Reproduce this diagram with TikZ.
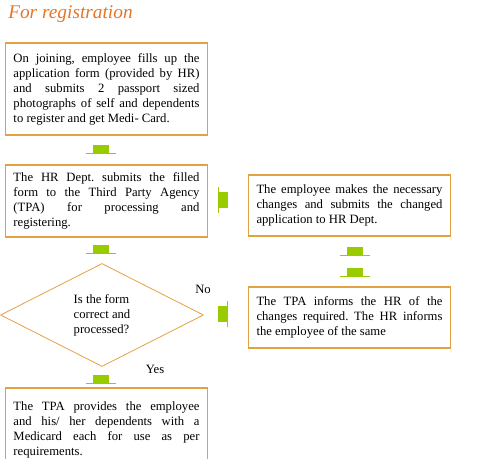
\documentclass[tikz,border=0pt]{standalone}
\usepackage{fontspec}
\setmainfont{Liberation Serif}
\usepackage{xcolor}
\usetikzlibrary{shapes.geometric}

\definecolor{boxline}{RGB}{226,162,68}
\definecolor{stubgreen}{RGB}{153,204,0}
\definecolor{titleorange}{RGB}{228,118,38}

\newcommand{\flowfont}{\fontsize{9.5}{11.25}\selectfont}
\frenchspacing

\tikzset{
  stepbox/.style={draw=boxline, line width=0.8pt, text width=139.5pt,
    inner xsep=6.25pt, inner ysep=0pt, align=justify, font=\flowfont},
  vstub/.pic={\fill[stubgreen] (-8,-4) rectangle (8,4);
    \draw[stubgreen, line width=0.5pt] (-15,4) -- (15,4);},
  hstub/.pic={\fill[stubgreen] (-4.5,-8) rectangle (4.5,8);
    \draw[stubgreen, line width=0.5pt] (5,-13) -- (5,13);}
}

\begin{document}
\begin{tikzpicture}[x=0.75pt, y=-0.75pt]

\useasboundingbox (0,0) rectangle (492,459);
\clip (0,0) rectangle (492,459);

\node[anchor=base west, text=titleorange, font=\fontsize{14.5}{16}\selectfont\itshape, inner sep=0]
  (title) at (8,19) {For registration};

% left column
\node[stepbox, minimum height=69pt] (join) at (106.5,89)
  {On joining, employee fills up the\linebreak application form (provided by HR)\linebreak and submits 2 passport sized\linebreak photographs of self and dependents\linebreak to register and get Medi- Card.};

\node[stepbox, minimum height=54pt] (submit) at (106.5,201)
  {The HR Dept. submits the filled\linebreak form to the Third Party Agency\linebreak (TPA) for processing and\linebreak registering.};

\node[diamond, draw=boxline, line width=0.6pt, minimum width=152.25pt, minimum height=77.25pt,
  inner sep=0, align=left, font=\flowfont] (check) at (102,315)
  {Is the form\\correct and\\processed?};

\node[stepbox, minimum height=63pt] (card) at (106.5,430)
  {The TPA provides the employee\linebreak and his/ her dependents with a\linebreak Medicard each for use as per\linebreak requirements.};

% right column
\node[stepbox, minimum height=45.75pt] (resend) at (349.5,205.5)
  {The employee makes the necessary\linebreak changes and submits the changed\linebreak application to HR Dept.};

\node[stepbox, minimum height=45.75pt] (inform) at (349.5,317.5)
  {The TPA informs the HR of the\linebreak changes required. The HR informs\linebreak the employee of the same};

\node[font=\flowfont] (no) at (203,289) {No};
\node[font=\flowfont] (yes) at (155,369) {Yes};

% green arrow stubs
\pic at (101,149) {vstub};
\pic at (101,249) {vstub};
\pic at (101,379) {vstub};
\pic[xscale=-1] at (223.5,200.5) {hstub};
\pic at (222,314) {hstub};
\pic at (355,251.5) {vstub};
\pic at (355,272) {vstub};

\end{tikzpicture}
\end{document}
